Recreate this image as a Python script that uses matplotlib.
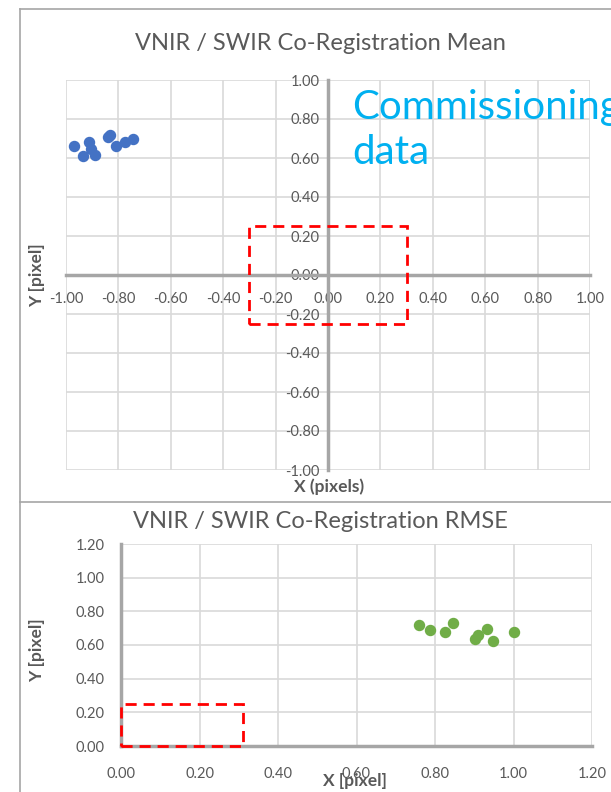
import matplotlib
matplotlib.use("Agg")
import matplotlib.pyplot as plt
from matplotlib.lines import Line2D
from matplotlib.patches import Rectangle
from matplotlib.ticker import FormatStrFormatter

plt.rcParams["font.family"] = ["Lato", "DejaVu Sans"]

# ── Data ───────────────────────────────────────────────────────
mean_x = [-0.968, -0.911, -0.934, -0.905, -0.889, -0.832, -0.840, -0.810, -0.775, -0.743]
mean_y = [0.659, 0.680, 0.612, 0.645, 0.617, 0.716, 0.710, 0.663, 0.680, 0.697]

rmse_x = [0.760, 0.787, 0.825, 0.847, 0.902, 0.910, 0.932, 0.947, 1.000]
rmse_y = [0.716, 0.690, 0.679, 0.730, 0.635, 0.657, 0.696, 0.625, 0.677]

mean_ticks = [-1.0, -0.8, -0.6, -0.4, -0.2, 0.0, 0.2, 0.4, 0.6, 0.8, 1.0]
rmse_ticks = [0.0, 0.2, 0.4, 0.6, 0.8, 1.0, 1.2]

mean_box = (-0.3, -0.25, 0.6, 0.5)   # x, y, w, h
rmse_box = (0.0, 0.0, 0.31, 0.25)

TXT = "#595959"
GRID = "#D9D9D9"
AXIS = "#A6A6A6"
BLUE = "#4472C4"
GREEN = "#70AD47"

fig = plt.figure(figsize=(6.11, 7.92), dpi=100)

# ── Outer chart frames ─────────────────────────────────────────
frame = dict(color="#A6A6A6", linewidth=1.2, transform=fig.transFigure)
fig.add_artist(Line2D([20 / 611, 20 / 611], [0, 1 - 9 / 792], **frame))
fig.add_artist(Line2D([20 / 611, 1], [1 - 9 / 792, 1 - 9 / 792], **frame))
fig.add_artist(Line2D([20 / 611, 1], [1 - 502 / 792, 1 - 502 / 792], **frame))


def style_axes(ax, ticks_x, ticks_y, xpad, ypad):
    ax.set_xticks(ticks_x)
    ax.set_yticks(ticks_y)
    ax.xaxis.set_major_formatter(FormatStrFormatter("%.2f"))
    ax.yaxis.set_major_formatter(FormatStrFormatter("%.2f"))
    ax.grid(True, color=GRID, linewidth=1.2, zorder=0)
    ax.set_axisbelow(True)
    for side in ("top", "right"):
        ax.spines[side].set_visible(False)
    for side in ("left", "bottom"):
        ax.spines[side].set_color(AXIS)
        ax.spines[side].set_linewidth(2.5)
    ax.tick_params(axis="x", length=0, pad=xpad, labelsize=10.5, labelcolor=TXT)
    ax.tick_params(axis="y", length=0, pad=ypad, labelsize=10.5, labelcolor=TXT)


# ── Top chart: mean ────────────────────────────────────────────
ax1 = fig.add_axes([66 / 611, 1 - 470 / 792, 524 / 611, 390 / 792])
ax1.set_xlim(-1, 1)
ax1.set_ylim(-1, 1)
ax1.spines["left"].set_position(("data", 0))
ax1.spines["bottom"].set_position(("data", 0))
style_axes(ax1, mean_ticks, mean_ticks, xpad=12, ypad=6)
ax1.scatter(mean_x, mean_y, s=52, color=BLUE, zorder=3, clip_on=False)
ax1.add_patch(Rectangle(mean_box[:2], mean_box[2], mean_box[3], fill=False,
                        edgecolor="red", linestyle=(0, (4, 2.5)), linewidth=2,
                        zorder=4))
fig.text(320 / 611, 1 - 43 / 792, "VNIR / SWIR Co-Registration Mean",
         ha="center", va="center", fontsize=17, color=TXT)
fig.text(329 / 611, 1 - 487 / 792, "X (pixels)", ha="center", va="center",
         fontsize=12.5, fontweight="bold", color=TXT)
fig.text(37 / 611, 1 - 275 / 792, "Y [pixel]", ha="center", va="center",
         rotation=90, fontsize=12.5, fontweight="bold", color=TXT)
fig.text(352 / 611, 1 - 130 / 792, "Commissioning\ndata", ha="left",
         va="center", fontsize=29, color="#00B0F0", linespacing=1.25)

# ── Bottom chart: RMSE ─────────────────────────────────────────
ax2 = fig.add_axes([121 / 611, 1 - 746 / 792, 471 / 611, 202 / 792])
ax2.set_xlim(0, 1.2)
ax2.set_ylim(0, 1.2)
style_axes(ax2, rmse_ticks, rmse_ticks, xpad=15, ypad=12)
ax2.scatter(rmse_x, rmse_y, s=52, color=GREEN, zorder=3)
ax2.add_patch(Rectangle(rmse_box[:2], rmse_box[2], rmse_box[3], fill=False,
                        edgecolor="red", linestyle=(0, (4, 2.5)), linewidth=2,
                        zorder=4, clip_on=False))
fig.text(320 / 611, 1 - 522 / 792, "VNIR / SWIR Co-Registration RMSE",
         ha="center", va="center", fontsize=17, color=TXT)
fig.text(355 / 611, 1 - 781 / 792, "X [pixel]", ha="center", va="center",
         fontsize=12.5, fontweight="bold", color=TXT)
fig.text(37 / 611, 1 - 650 / 792, "Y [pixel]", ha="center", va="center",
         rotation=90, fontsize=12.5, fontweight="bold", color=TXT)

fig.savefig("out.png", dpi=100)
